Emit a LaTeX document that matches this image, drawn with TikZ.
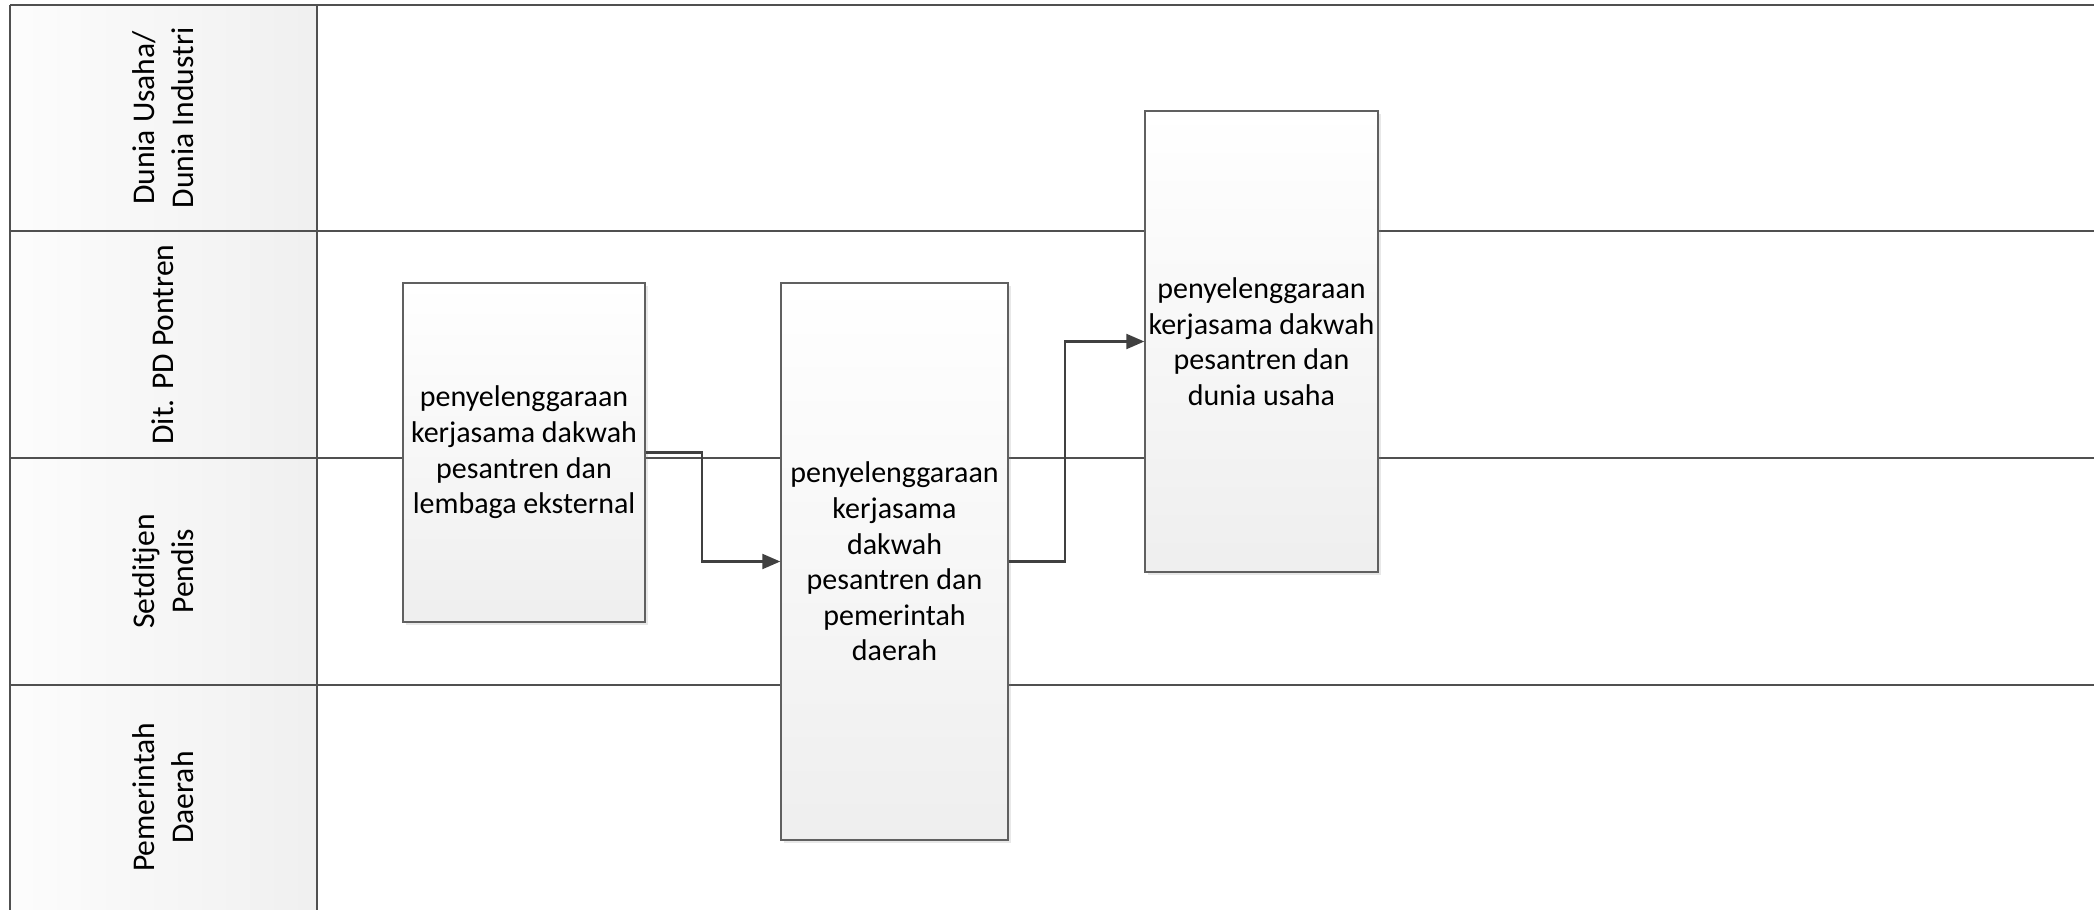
\documentclass[tikz,border=0pt]{standalone}
\usepackage{fontspec}
\setmainfont{Carlito}
\usetikzlibrary{arrows.meta,shadows}
\definecolor{laneline}{HTML}{505050}
\definecolor{boxline}{HTML}{606060}
\definecolor{arrowcol}{HTML}{404040}
\tikzset{
  lanehead/.style={draw=none, left color=gray!2, right color=gray!12, inner sep=0pt},
  lanetext/.style={rotate=90, align=center, font=\fontsize{15.8}{19.5}\selectfont, inner sep=0pt},
  procbox/.style={draw=boxline, line width=0.7pt, top color=white, bottom color=gray!13,
    align=center, inner sep=0pt, font=\fontsize{15}{17.8}\selectfont,
    drop shadow={shadow xshift=1.5pt, shadow yshift=-1.5pt, opacity=0.18, fill=gray}},
  lanerule/.style={draw=laneline, line width=1.1pt},
  flow/.style={draw=arrowcol, line width=1.1pt, -{Triangle[length=9pt,width=7.5pt]}}
}
\begin{document}
\begin{tikzpicture}[x=0.5pt,y=-0.5pt]
\useasboundingbox[fill=white] (0,0) rectangle (2094,910);
% lane header backgrounds
\node[lanehead, minimum width=153.5pt, minimum height=113pt] (h1) at (163.5,118) {};
\node[lanehead, minimum width=153.5pt, minimum height=113.5pt] (h2) at (163.5,344.5) {};
\node[lanehead, minimum width=153.5pt, minimum height=113.5pt] (h3) at (163.5,571.5) {};
\node[lanehead, minimum width=153.5pt, minimum height=112.5pt] (h4) at (163.5,797.5) {};
% lane labels
\node[lanetext] (t1) at (163,118) {Dunia Usaha/\\Dunia Industri};
\node[lanetext] (t2) at (163,344.5) {Dit. PD Pontren};
\node[lanetext] (t3) at (163,571.5) {Setditjen\\Pendis};
\node[lanetext] (t4) at (163,797.5) {Pemerintah\\Daerah};
% lane rules
\draw[lanerule] (10,5) -- (2094,5);
\draw[lanerule] (10,231) -- (2094,231);
\draw[lanerule] (10,458) -- (2094,458);
\draw[lanerule] (10,685) -- (2094,685);
\draw[lanerule] (10,5) -- (10,910);
\draw[lanerule] (317,5) -- (317,910);
% process boxes
\node[procbox, minimum width=121pt, minimum height=169.5pt] (b1) at (524,452.5)
  {penyelenggaraan\\kerjasama dakwah\\pesantren dan\\lembaga eksternal};
\node[procbox, minimum width=113.5pt, minimum height=278.5pt] (b2) at (894.5,561.5)
  {penyelenggaraan\\kerjasama\\dakwah\\pesantren dan\\pemerintah\\daerah};
\node[procbox, minimum width=116.5pt, minimum height=230.5pt] (b3) at (1261.5,341.5)
  {penyelenggaraan\\kerjasama dakwah\\pesantren dan\\dunia usaha};
% connectors
\draw[flow] (b1.east) -- ++(56,0) |- (b2.west);
\draw[flow] (b2.east) -- ++(56,0) |- (b3.west);
\end{tikzpicture}
\end{document}
